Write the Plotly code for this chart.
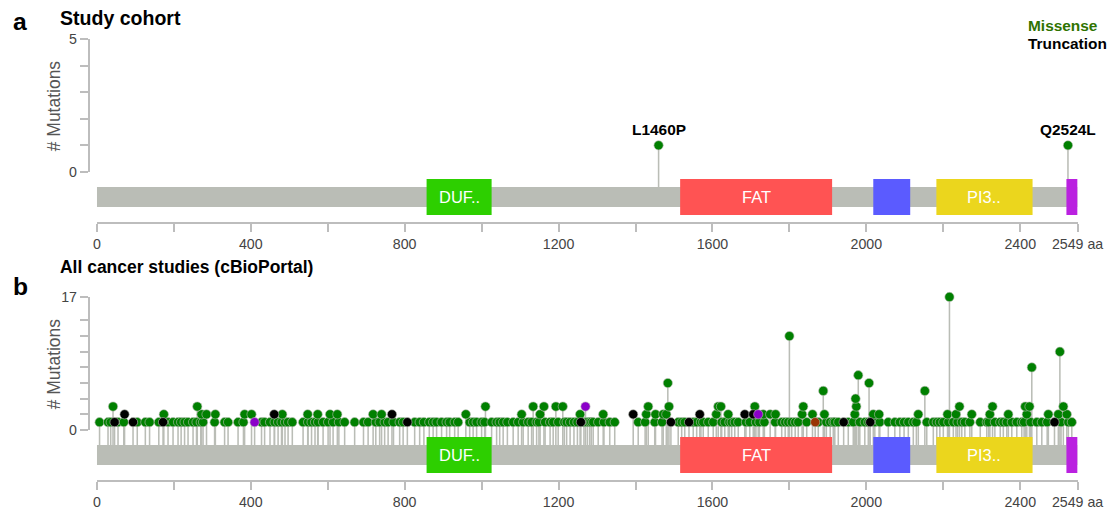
import plotly.graph_objects as go

# ---------------- data ----------------
PROTEIN_LEN = 2549

domain_names = ["DUF..", "FAT", "", "PI3..", ""]
domain_start = [857, 1516, 2018, 2182, 2520]
domain_end = [1026, 1911, 2114, 2432, 2549]
domain_colors = ["#2DCF00", "#FF5353", "#5B5BFF", "#EBD61D", "#BA21E0"]

# panel a: study cohort
a_pos = [1460, 2524]
a_cnt = [1, 1]
a_labels = ["L1460P", "Q2524L"]

# panel b: all cancer studies, missense hits seen once
b_mis_single = [
    7, 29, 36, 55, 70, 105, 126, 137, 161, 185, 198, 211, 219, 228, 237, 250, 259, 270, 276,
    306, 332, 341, 367, 381, 428, 436, 450, 462, 471, 480, 489, 497, 508, 536, 549, 558, 567,
    575, 588, 601, 614, 629, 644, 670, 693, 705, 725, 735, 748, 757, 771, 787, 796, 826, 839,
    850, 864, 874, 883, 896, 909, 917, 930, 939, 969, 978, 987, 1000, 1008, 1026, 1039, 1047,
    1056, 1067, 1082, 1095, 1108, 1121, 1130, 1143, 1149, 1165, 1178, 1186, 1199, 1215, 1221,
    1230, 1240, 1249, 1266, 1275, 1281, 1285, 1290, 1303, 1318, 1333, 1346, 1407, 1425, 1450,
    1469, 1511, 1520, 1528, 1550, 1559, 1570, 1576, 1589, 1602, 1624, 1632, 1644, 1650, 1658,
    1667, 1687, 1697, 1713, 1722, 1735, 1763, 1780, 1789, 1797, 1806, 1815, 1823, 1845, 1875,
    1896, 1906, 1914, 1918, 1927, 1953, 1966, 1983, 1996, 2005, 2022, 2035, 2057, 2074, 2087,
    2098, 2109, 2122, 2130, 2157, 2174, 2183, 2191, 2200, 2213, 2226, 2237, 2248, 2256, 2269,
    2296, 2313, 2318, 2334, 2348, 2356, 2365, 2378, 2391, 2404, 2410, 2427, 2443, 2456, 2470,
    2506, 2525, 2534,
]

# missense hits seen twice
b_mis_double = [
    174, 272, 285, 308, 384, 402, 482, 548, 574, 606, 625, 718, 740, 959, 1104, 1152, 1256,
    1316, 1428, 1452, 1472, 1480, 1610, 1641, 1732, 1750, 1764, 1833, 1860, 1891, 1970, 2018,
    2033, 2135, 2211, 2233, 2274, 2321, 2369, 2417, 2473, 2499, 2521,
]

# missense hits seen three times
b_mis_triple = [
    42, 261, 1010, 1134, 1162, 1193, 1211, 1433, 1487, 1615, 1622, 1710, 1836, 1974, 2242,
    2328, 2413, 2424, 2512,
]

# recurrent missense hotspots
b_mis_hot_pos = [1972, 1888, 2152, 1484, 2007, 1979, 2430, 2503, 1800, 2216]
b_mis_hot_cnt = [4, 5, 5, 6, 6, 7, 8, 10, 12, 17]

b_trunc_pos = [46, 72, 94, 172, 461, 767, 807, 1258, 1394, 1492, 1539, 1567, 1684, 1706, 1941, 2010, 2489]
b_trunc_cnt = [1, 2, 1, 1, 2, 2, 1, 1, 2, 1, 1, 2, 2, 2, 1, 1, 1]

b_other_pos = [410, 1270, 1719]
b_other_cnt = [1, 3, 2]

b_inframe_pos = [1867]
b_inframe_cnt = [1]

x_tickvals = [0, 200, 400, 600, 800, 1000, 1200, 1400, 1600, 1800, 2000, 2200, 2400, 2549]
x_ticktext = ["0", "", "400", "", "800", "", "1200", "", "1600", "", "2000", "", "2400", "2549 aa"]

# ---------------- styling / geometry ----------------
# layout is specified in display pixels (X, Y); the page shows the figure at
# a slight scale with a small offset, so convert display pixels to figure pixels
SX, BX = 0.972, 4.3
SY, BY = 0.969, 8.1
W, H = 1141, 520
FONT = "Liberation Sans, Arial, Helvetica, sans-serif"
GREY = "#BABDB6"
AXIS_GREY = "#BDBDBD"
MISSENSE = "#008000"
TRUNC = "#000000"
OTHER = "#8B00C9"
INFRAME = "#993404"


def sz(v):
    """display size -> figure size"""
    return v / SX


def fx(X):
    return ((X - BX) / SX) / W


def fy(Y):
    return 1 - ((Y - BY) / SY) / H


TICK_FONT = dict(family=FONT, size=sz(13.8), color="#444444")

# panel geometry in display pixels: y of zero line, y of top value, top value
panels = {
    "a": dict(zero=172, top_px=39, top_val=5, axis_px=222, dom_top=30),
    "b": dict(zero=430, top_px=297, top_val=17, axis_px=480, dom_top=285),
}


def val(p, py):
    k = (p["zero"] - p["top_px"]) / p["top_val"]
    return (p["zero"] - py) / k


fig = go.Figure()


def add_panel(p, xa, ya, yvis, pos_lists, label_info=None):
    bar_top = val(p, p["zero"] + 15)
    bar_bot = val(p, p["zero"] + 35)
    dom_top = val(p, p["zero"] + 7)
    dom_bot = val(p, p["zero"] + 43)

    # stems
    sx, sy = [], []
    for positions, counts, _ in pos_lists:
        for x, c in zip(positions, counts):
            sx += [x, x, None]
            sy += [bar_top, c, None]
    fig.add_trace(go.Scatter(x=sx, y=sy, mode="lines", line=dict(color=GREY, width=sz(1.5)),
                             hoverinfo="skip", xaxis=xa, yaxis=ya))
    # heads
    for positions, counts, color in pos_lists:
        fig.add_trace(go.Scatter(x=positions, y=counts, mode="markers", cliponaxis=False,
                                 marker=dict(size=sz(9), color=color,
                                             line=dict(color=GREY, width=0.6)),
                                 hoverinfo="x+y", xaxis=xa, yaxis=ya))

    # protein backbone
    fig.add_shape(type="rect", xref=xa, yref=ya, x0=0, x1=PROTEIN_LEN, y0=bar_bot, y1=bar_top,
                  fillcolor=GREY, line=dict(width=0), layer="below")
    # domains
    for name, s, e, c in zip(domain_names, domain_start, domain_end, domain_colors):
        fig.add_shape(type="rect", xref=xa, yref=ya, x0=s, x1=e, y0=dom_bot, y1=dom_top,
                      fillcolor=c, line=dict(width=0), layer="above")
        if name:
            fig.add_annotation(x=(s + e) / 2, y=(dom_bot + dom_top) / 2, xref=xa, yref=ya,
                               text=name, showarrow=False,
                               font=dict(family=FONT, size=sz(16), color="white"))

    # invisible trace so the stand-alone y axis is drawn
    fig.add_trace(go.Scatter(x=[0], y=[0], mode="markers", marker=dict(opacity=0),
                             hoverinfo="skip", xaxis=xa, yaxis=yvis))

    if label_info:
        for x, c, t in zip(*label_info):
            fig.add_annotation(x=x, y=c, xref=xa, yref=ya, text="<b>%s</b>" % t, showarrow=False,
                               yshift=sz(15), font=dict(family=FONT, size=sz(15), color="black"))


pa, pb = panels["a"], panels["b"]
add_panel(pa, "x", "y", "y3", [(a_pos, a_cnt, MISSENSE)], (a_pos, a_cnt, a_labels))
add_panel(pb, "x2", "y2", "y4", [
    (b_mis_single, [1] * len(b_mis_single), MISSENSE),
    (b_mis_double, [2] * len(b_mis_double), MISSENSE),
    (b_mis_triple, [3] * len(b_mis_triple), MISSENSE),
    (b_mis_hot_pos, b_mis_hot_cnt, MISSENSE),
    (b_trunc_pos, b_trunc_cnt, TRUNC),
    (b_other_pos, b_other_cnt, OTHER),
    (b_inframe_pos, b_inframe_cnt, INFRAME),
])

xdom = [fx(97), fx(1076)]
xcommon = dict(domain=xdom, range=[0, PROTEIN_LEN], showgrid=False, zeroline=False,
               showline=True, linecolor=AXIS_GREY, linewidth=sz(1.5), ticks="outside",
               ticklen=sz(8), tickwidth=sz(1.5), tickcolor=AXIS_GREY, tickvals=x_tickvals,
               ticktext=x_ticktext, tickfont=TICK_FONT, fixedrange=True)
hidden_y = dict(visible=False, showgrid=False, zeroline=False, fixedrange=True)
vis_y = dict(anchor="free", position=fx(89), showgrid=False, zeroline=False, showline=True,
             linecolor=AXIS_GREY, linewidth=sz(1.5), ticks="outside", ticklen=sz(8),
             tickwidth=sz(1.5), tickcolor=AXIS_GREY, tickfont=TICK_FONT, fixedrange=True)

fig.update_layout(
    width=W, height=H, autosize=False, margin=dict(l=0, r=0, t=0, b=0, pad=0),
    paper_bgcolor="white", plot_bgcolor="rgba(0,0,0,0)", showlegend=False,
    font=dict(family=FONT),
    xaxis=dict(anchor="y", **xcommon),
    xaxis2=dict(anchor="y2", **xcommon),
    yaxis=dict(domain=[fy(pa["axis_px"]), fy(pa["dom_top"])],
               range=[val(pa, pa["axis_px"]), val(pa, pa["dom_top"])], **hidden_y),
    yaxis2=dict(domain=[fy(pb["axis_px"]), fy(pb["dom_top"])],
                range=[val(pb, pb["axis_px"]), val(pb, pb["dom_top"])], **hidden_y),
    yaxis3=dict(domain=[fy(pa["zero"]), fy(pa["top_px"])], range=[0, 5],
                tickvals=[0, 1, 2, 3, 4, 5], ticktext=["0", "", "", "", "", "5"], **vis_y),
    yaxis4=dict(domain=[fy(pb["zero"]), fy(pb["top_px"])], range=[0, 17],
                tickvals=[0, 2, 4, 6, 8, 10, 12, 14, 17],
                ticktext=["0", "", "", "", "", "", "", "", "17"], **vis_y),
)

# panel letters, titles, legend
texts = [
    ("a", 11, 22, 24, "black"),
    ("Study cohort", 58, 18, 19, "black"),
    ("b", 11, 287, 24, "black"),
    ("All cancer studies (cBioPortal)", 58, 267, 17, "black"),
    ("Missense", 1025, 26, 15, "#2F7300"),
    ("Truncation", 1025, 44, 15, "black"),
]
for t, x, y, s, c in texts:
    fig.add_annotation(x=fx(x), y=fy(y), xref="paper", yref="paper", xanchor="left",
                       yanchor="middle", text="<b>%s</b>" % t, showarrow=False,
                       font=dict(family=FONT, size=sz(s), color=c))

for yc in [(pa["zero"] + pa["top_px"]) / 2, (pb["zero"] + pb["top_px"]) / 2]:
    fig.add_annotation(x=fx(55), y=fy(yc), xref="paper", yref="paper", text="# Mutations",
                       textangle=-90, showarrow=False, xanchor="center", yanchor="middle",
                       font=dict(family=FONT, size=sz(17), color="#555555"))

fig.write_html("out.html", config={"responsive": False, "displayModeBar": False})
